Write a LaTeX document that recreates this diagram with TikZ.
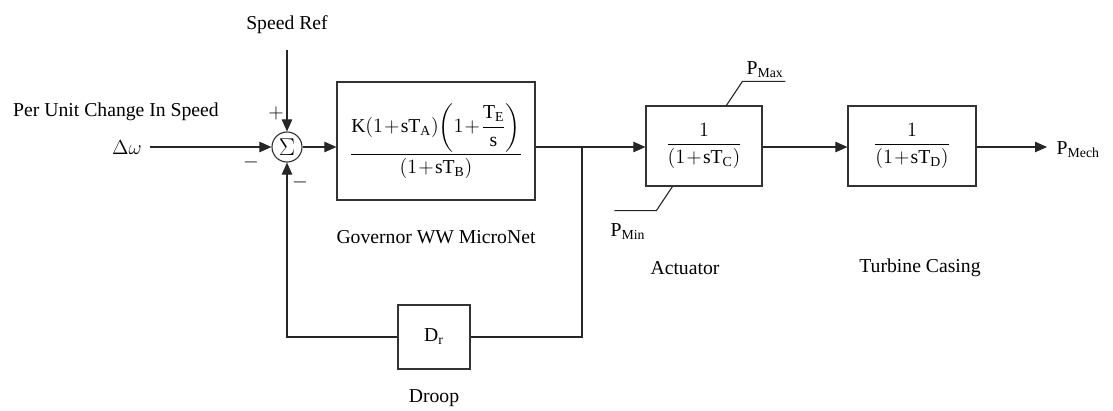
\documentclass[tikz,border=0pt]{standalone}
\usepackage{amsmath}
\usepackage{fontspec}
\setmainfont{Liberation Serif}
\usetikzlibrary{arrows.meta,positioning}

\begin{document}
\begin{tikzpicture}[
    x=0.025cm, y=-0.025cm,
    font=\fontsize{14}{16}\selectfont,
    block/.style={rectangle, draw=black!80, line width=0.8pt, inner sep=0pt, align=center,
        execute at begin node={\medmuskip=1mu}},
    sumnode/.style={circle, draw=black!80, line width=0.8pt, minimum size=0.75cm, inner sep=0pt,
        font=\fontsize{19}{19}\selectfont},
    sig/.style={-{Triangle[length=3mm,width=2.6mm]}, line width=0.8pt, draw=black!85},
    wire/.style={line width=0.8pt, draw=black!85},
    lbl/.style={inner sep=1pt}
]
    \useasboundingbox (0,0) rectangle (1113,410);

    % Summing junction
    \node[sumnode] (sum) at (287,147) {$\Sigma$};
    \node[lbl] (ref) at (287,25) {Speed Ref};
    \coordinate (reftop) at (287,50);
    \node[lbl] (plus) at (276,113) {$+$};
    \node[lbl] (minusa) at (251,162) {$-$};
    \node[lbl] (minusb) at (300,182) {$-$};

    % Input
    \node[lbl] (pu) at (116,112) {Per Unit Change In Speed};
    \node[lbl] (dw) at (127,148) {$\Delta\omega$};
    \coordinate (win) at (150,147);

    % Blocks
    \node[block, minimum width=4.95cm, minimum height=2.95cm] (gov) at (436,141)
        {$\dfrac{\mathrm{K}\!\left(1+\mathrm{sT_A}\right)\!\left(1+\dfrac{\mathrm{T_E}}{\mathrm{s}}\right)}{\left(1+\mathrm{sT_B}\right)}$};
    \node[block, minimum width=2.9cm, minimum height=2cm] (act) at (704,146)
        {$\dfrac{1}{\left(1+\mathrm{sT_C}\right)}$};
    \node[block, minimum width=3.2cm, minimum height=2cm] (turb) at (912,146)
        {$\dfrac{1}{\left(1+\mathrm{sT_D}\right)}$};
    \node[block, minimum width=1.8cm, minimum height=1.6cm] (droop) at (434,337) {$\mathrm{D_r}$};

    % Labels
    \node[lbl, below=0.7cm of gov] (govlbl) {Governor WW MicroNet};
    \node[lbl] (actlbl) at (685,268) {Actuator};
    \node[lbl] (turblbl) at (920,268) {Turbine Casing};
    \node[lbl, below=0.45cm of droop] (drooplbl) {Droop};

    % Limits
    \draw[wire] ([xshift=2.025cm]act.north west) -- ++(16,-24) -- ++(43,0);
    \node[lbl] (pmax) at (765,70) {$\mathrm{P}_{\mathrm{Max}}$};
    \draw[wire] ([xshift=0.675cm]act.south west) -- ++(-16,24) -- ++(-42,0);
    \node[lbl] (pmin) at (628,232) {$\mathrm{P}_{\mathrm{Min}}$};

    % Signals
    \coordinate (branch) at (582,147);
    \coordinate (out) at (1047,147);
    \draw[sig] (reftop) -- (sum.north);
    \draw[sig] (win) -- (sum.west);
    \draw[sig] (sum.east) -- (gov.west |- sum);
    \draw[wire] (gov.east |- branch) -- (branch);
    \draw[sig] (branch) -- (act.west |- branch);
    \draw[sig] (act.east |- branch) -- (turb.west |- branch);
    \draw[sig] (turb.east |- branch) -- (out);
    \node[lbl, right] (pmech) at (1055,150) {$\mathrm{P}_{\mathrm{Mech}}$};

    % Feedback
    \draw[wire] (branch) |- (droop.east);
    \draw[sig] (droop.west) -| (sum.south);
\end{tikzpicture}
\end{document}
